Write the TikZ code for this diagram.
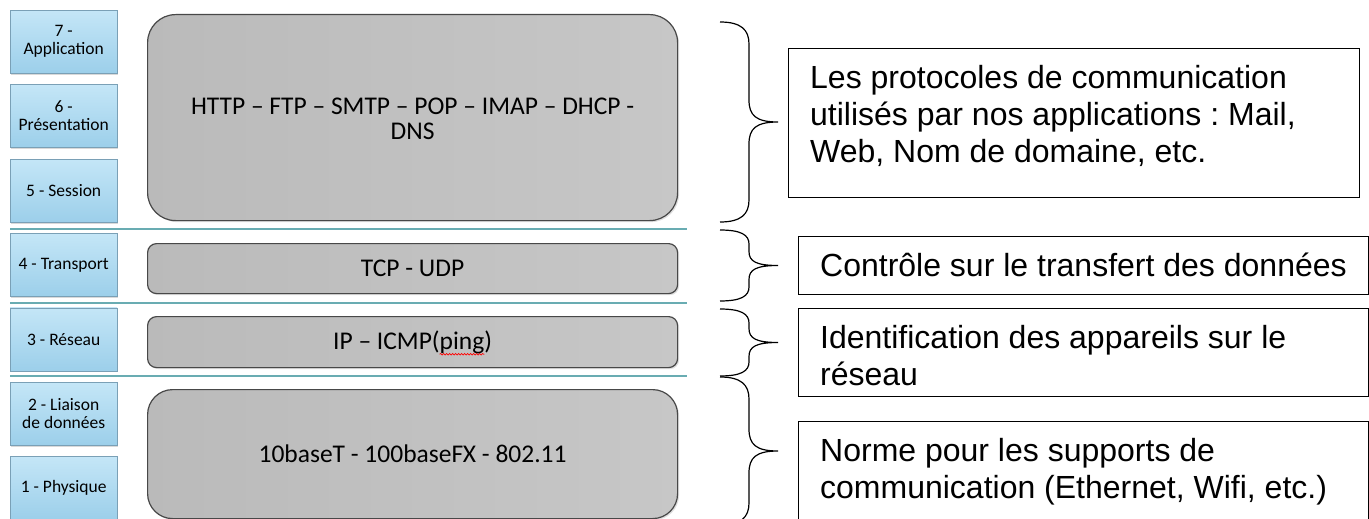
\documentclass[tikz,border=0pt]{standalone}
\usepackage{fontspec}
\setmainfont{Liberation Sans}
\newfontfamily\gillfont{Carlito}
\usetikzlibrary{positioning,shadows,decorations.pathmorphing}
\definecolor{bleuhaut}{RGB}{196,230,247}
\definecolor{bleubas}{RGB}{156,207,234}
\definecolor{bleubord}{RGB}{122,160,182}
\definecolor{grisbord}{RGB}{72,72,72}
\definecolor{sarcelle}{RGB}{105,172,178}
\newcommand{\policeproto}{\gillfont\fontsize{25.5}{25}\selectfont}
\newlength{\largtotal}
\newlength{\largdebut}
\newlength{\largping}
\AtBeginDocument{%
	\settowidth{\largtotal}{\policeproto IP – ICMP(ping)}%
	\settowidth{\largdebut}{\policeproto IP – ICMP(}%
	\settowidth{\largping}{\policeproto ping}}
% accolade verticale : haut, bas, taille des courbes
\newcommand{\accolade}[3]{%
	\pgfmathsetmacro{\ymil}{(#1+#2)/2}
	\draw[accolade] (720,#1) .. controls (741,#1) and (749,#1+0.35*#3) .. (749,#1+#3)
	-- (749,\ymil-#3) .. controls (749,\ymil-0.3*#3) and (756,\ymil) .. (778,\ymil)
	.. controls (756,\ymil) and (749,\ymil+0.3*#3) .. (749,\ymil+#3)
	-- (749,#2-#3) .. controls (749,#2-0.35*#3) and (741,#2) .. (720,#2);}
\tikzset{
	couche/.style={
		rectangle,
		draw=bleubord,
		top color=bleuhaut,
		bottom color=bleubas,
		minimum width=107pt,
		minimum height=63pt,
		inner sep=1pt,
		align=center,
		font=\gillfont\fontsize{17.5}{18}\selectfont,
		drop shadow={shadow xshift=1pt,shadow yshift=-1.5pt,opacity=.3}
	},
	protocole/.style={
		rectangle,
		draw=grisbord,
		line width=1.2pt,
		left color=gray!54,
		middle color=gray!28,
		right color=gray!44,
		minimum width=530pt,
		anchor=north west,
		align=center,
		text=black,
		font=\policeproto,
		drop shadow={shadow xshift=1.5pt,shadow yshift=-1.5pt,opacity=.25}
	},
	note/.style={
		rectangle,
		draw=black,
		line width=1.1pt,
		anchor=north west,
		inner sep=0pt
	},
	notetexte/.style={
		anchor=north west,
		inner sep=0pt,
		align=left,
		font=\fontsize{32}{37}\selectfont\frenchspacing
	},
	separation/.style={draw=sarcelle,line width=1.2pt},
	accolade/.style={draw=black,line width=1.2pt},
	faute/.style={draw=red,line width=.7pt,decorate,decoration={snake,amplitude=.8pt,segment length=3pt}}
}
\begin{document}
\begin{tikzpicture}[x=1pt,y=-1pt,node distance=11pt]
	\useasboundingbox (0,0) rectangle (1369,519);
	% les sept couches
	\node [couche,anchor=north west] (c7) at (10,10) {7 -\\Application};
	\node [couche] (c6) [below= of c7] {6 -\\Présentation};
	\node [couche] (c5) [below= of c6] {5 - Session};
	\node [couche] (c4) [below= of c5] {4 - Transport};
	\node [couche] (c3) [below= of c4] {3 - Réseau};
	\node [couche] (c2) [below= of c3] {2 - Liaison\\de données};
	\node [couche] (c1) [below= of c2] {1 - Physique};
	% lignes de separation
	\draw [separation] (10,229) -- (687,229);
	\draw [separation] (10,303) -- (687,303);
	\draw [separation] (10,376) -- (687,376);
	% protocoles
	\node [protocole,minimum height=206pt,rounded corners=28pt] (app) at (147,14)
		{\raisebox{-4pt}[\height][\depth]{\begin{tabular}{@{}c@{}}HTTP – FTP – SMTP – POP – IMAP – DHCP -\\DNS\end{tabular}}};
	\node [protocole,minimum height=50pt,rounded corners=9pt] (tcp) at (147,243) {TCP - UDP};
	\node [protocole,minimum height=51pt,rounded corners=9pt] (ip) at (147,316) {IP – ICMP(ping)};
	\node [protocole,minimum height=129pt,rounded corners=25pt] (phys) at (147,389)
		{10baseT - 100baseFX - 802.11};
	% soulignement du correcteur sous ping
	\draw [faute] ([xshift=\largdebut-0.5*\largtotal,yshift=-5pt]ip.base) -- ++(\largping,0pt);
	% accolades
	\accolade{22}{222}{22}
	\accolade{230}{301}{14}
	\accolade{309}{376}{14}
	\accolade{377}{525}{22}
	% explications
	\node [note,minimum width=571pt,minimum height=149pt] (nApp) at (788,48) {};
	\node [notetexte] (tApp) at ([xshift=22pt,yshift=-17pt]nApp.north west)
		{Les protocoles de communication\\utilisés par nos applications : Mail,\\Web, Nom de domaine, etc.};
	\node [note,minimum width=570pt,minimum height=58pt] (nTcp) at (798,236) {};
	\node [notetexte] (tTcp) at ([xshift=22pt,yshift=-17pt]nTcp.north west)
		{Contrôle sur le transfert des données};
	\node [note,minimum width=570pt,minimum height=88pt] (nIp) at (798,308) {};
	\node [notetexte] (tIp) at ([xshift=22pt,yshift=-17pt]nIp.north west)
		{Identification des appareils sur le\\réseau};
	\node [note,minimum width=570pt,minimum height=110pt] (nPhys) at (798,421) {};
	\node [notetexte] (tPhys) at ([xshift=22pt,yshift=-17pt]nPhys.north west)
		{Norme pour les supports de\\communication (Ethernet, Wifi, etc.)};
\end{tikzpicture}
\end{document}
